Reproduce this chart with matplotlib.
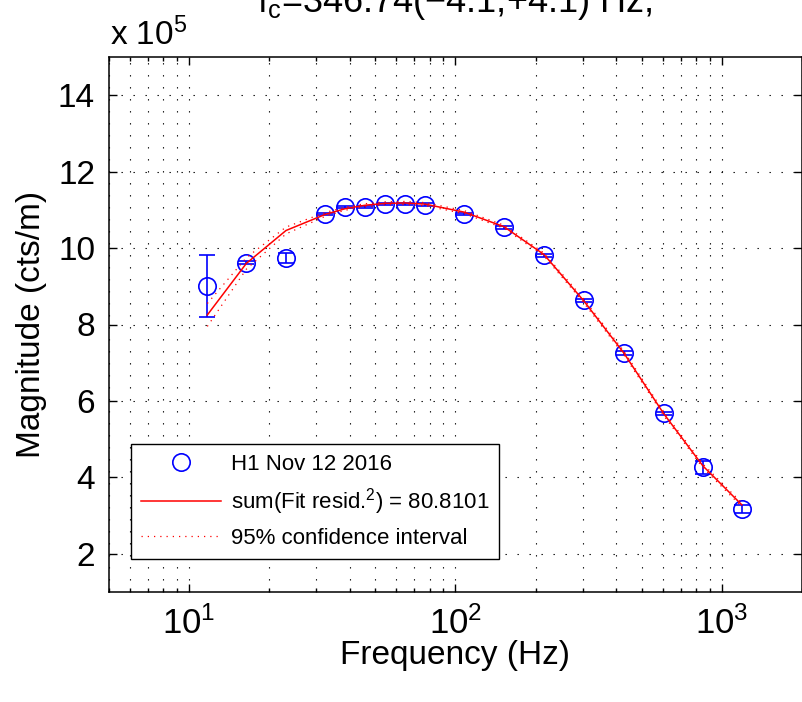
import numpy as np
import matplotlib
matplotlib.use('Agg')
import matplotlib.pyplot as plt
from matplotlib.ticker import LogLocator, LogFormatterMathtext, NullFormatter

# measured points (magnitude in units of 1e5 cts/m)
freq = [11.7, 16.4, 23.1, 32.4, 38.5, 45.7, 54.3, 64.7, 76.9,
        107.8, 152, 215, 303, 429, 606, 849, 1189]
mag = [9.00, 9.62, 9.75, 10.90, 11.08, 11.08, 11.16, 11.16, 11.14,
       10.90, 10.54, 9.81, 8.63, 7.25, 5.68, 4.27, 3.17]
mag_err = [0.81, 0.04, 0.13, 0.03, 0.03, 0.03, 0.03, 0.03, 0.03,
           0.03, 0.03, 0.04, 0.05, 0.05, 0.04, 0.17, 0.10]

# fit and its 95% confidence band
fit = [8.25, 9.60, 10.46, 10.88, 11.03, 11.12, 11.17, 11.18, 11.15,
       10.94, 10.56, 9.83, 8.62, 7.25, 5.66, 4.30, 3.28]
ci = [0.30, 0.15, 0.09, 0.05, 0.04, 0.04, 0.04, 0.04, 0.04,
      0.04, 0.04, 0.04, 0.05, 0.05, 0.05, 0.05, 0.05]

title_txt = 'f$_c$=346.74(\u22124.1,+4.1) Hz,'
legend_labels = ['H1 Nov 12 2016', 'sum(Fit resid.$^2$) = 80.8101',
                 '95% confidence interval']

plt.rcParams['font.family'] = ['Liberation Sans', 'DejaVu Sans']
plt.rcParams['mathtext.fontset'] = 'custom'
plt.rcParams['mathtext.rm'] = 'Liberation Sans'
plt.rcParams['mathtext.it'] = 'Liberation Sans'
plt.rcParams['mathtext.default'] = 'regular'

W, H = 803, 702
fig = plt.figure(figsize=(W / 100, H / 100), dpi=100)
ax = fig.add_axes([109 / W, 1 - 592 / H, (802 - 109) / W, (592 - 57) / H])

freq = np.array(freq)
fit = np.array(fit)
ci = np.array(ci)

ci_dash = (0, (1, 4))
ax.errorbar(freq, mag, yerr=mag_err, fmt='none', ecolor='#0000ff',
            elinewidth=1.2, capsize=6, capthick=1.2, zorder=3)
ax.plot(freq, mag, 'o', ms=12.5, mfc='none', mec='#0000ff', mew=1.2,
        label=legend_labels[0], zorder=4)
ax.plot(freq, fit, '-', color='#ff0000', lw=1.1, label=legend_labels[1], zorder=5)
ax.plot(freq, fit + ci, color='#ff0000', lw=0.9, linestyle=ci_dash,
        label=legend_labels[2], zorder=5)
ax.plot(freq, fit - ci, color='#ff0000', lw=0.9, linestyle=ci_dash, zorder=5)

ax.set_xscale('log')
ax.set_xlim(5, 2000)
ax.set_ylim(1, 15)
ax.set_yticks([2, 4, 6, 8, 10, 12, 14])
ax.xaxis.set_major_locator(LogLocator(base=10))
ax.xaxis.set_major_formatter(LogFormatterMathtext())
ax.xaxis.set_minor_locator(LogLocator(base=10, subs=np.arange(2, 10)))
ax.xaxis.set_minor_formatter(NullFormatter())

grid_dash = (0, (1.2, 9.6))
ax.grid(True, which='both', axis='x', color='k', lw=0.8, linestyle=grid_dash)
ax.grid(True, which='major', axis='y', color='k', lw=0.8, linestyle=grid_dash)
ax.set_axisbelow(True)

ax.tick_params(which='both', direction='in', top=True, right=True,
               labelsize=24, width=1.0)
ax.tick_params(axis='x', which='major', labelsize=25)
ax.tick_params(which='major', length=5.5, pad=10)
ax.tick_params(which='minor', length=3)
for s in ax.spines.values():
    s.set_linewidth(1.1)

ax.set_xlabel('Frequency (Hz)', fontsize=24, labelpad=0)
ax.set_ylabel('Magnitude (cts/m)', fontsize=24, labelpad=8)

fig.text(110 / W, 1 - 45 / H, 'x 10$^5$', fontsize=24, va='baseline', ha='left')
fig.text(455 / W, 1 - 12 / H, title_txt, fontsize=26, va='baseline', ha='center')

leg = ax.legend(loc='upper left', bbox_to_anchor=(131 / W, 1 - 444 / H),
                bbox_transform=fig.transFigure, fontsize=16, frameon=True,
                fancybox=False, edgecolor='k', framealpha=1,
                handlelength=3.6, handletextpad=0.45, labelspacing=0.5,
                borderpad=0.45, borderaxespad=0, numpoints=1)
leg.get_frame().set_linewidth(1.0)

fig.savefig('out.png', dpi=100)
